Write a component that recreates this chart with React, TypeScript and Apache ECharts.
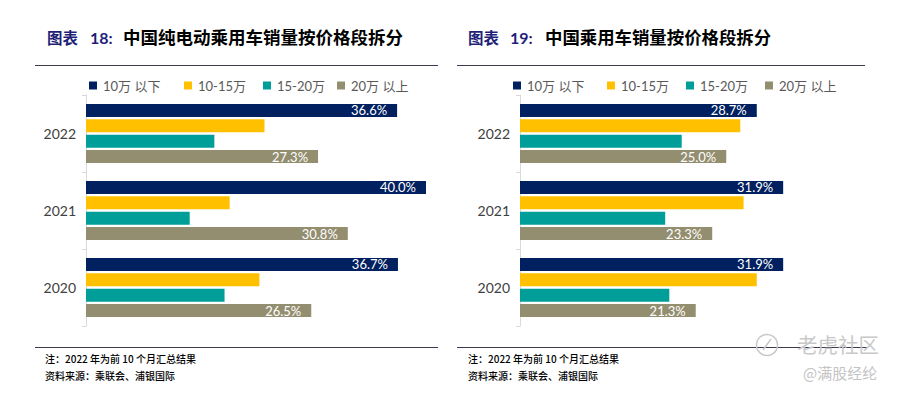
import React, { useEffect, useRef } from "react";
import * as echarts from "echarts";

const years = ["2020", "2021", "2022"];
const seriesNames = ["10万 以下", "10-15万", "15-20万", "20万 以上"];
const colors = ["#002060", "#FFC000", "#009E98", "#938E70"];

// Chart 18: pure EV passenger car sales by price segment (%), order 2020, 2021, 2022
const ev_below10 = [36.7, 40.0, 36.6];
const ev_10to15 = [20.4, 16.9, 21.0];
const ev_15to20 = [16.3, 12.2, 15.1];
const ev_above20 = [26.5, 30.8, 27.3];

// Chart 19: passenger car sales by price segment (%)
const pc_below10 = [31.9, 31.9, 28.7];
const pc_10to15 = [28.7, 27.1, 26.7];
const pc_15to20 = [18.1, 17.6, 19.6];
const pc_above20 = [21.3, 23.3, 25.0];

const labelledSeries = [true, false, false, true];

const FONT = "Lato, 'Noto Sans CJK SC', sans-serif";
const CJK = "'Noto Sans CJK SC', sans-serif";

export default function App() {
  const ref = useRef<HTMLDivElement>(null);
  useEffect(() => {
    if (!ref.current) return;
    const chart = echarts.init(ref.current, undefined, { renderer: "svg" });
    const sets = [
      [ev_below10, ev_10to15, ev_15to20, ev_above20],
      [pc_below10, pc_10to15, pc_15to20, pc_above20],
    ];
    const series: any[] = [];
    sets.forEach((set, gi) => {
      set.forEach((vals, si) => {
        series.push({
          type: "bar",
          name: seriesNames[si],
          xAxisIndex: gi,
          yAxisIndex: gi,
          data: vals,
          barWidth: 13,
          barGap: "18%",
          itemStyle: { color: colors[si] },
          label: {
            show: labelledSeries[si],
            position: "insideRight",
            distance: 10,
            color: "#ffffff",
            fontSize: 13,
            fontFamily: FONT,
            formatter: (p: any) => Number(p.value).toFixed(1) + "%",
          },
        });
      });
    });
    const legendLefts = [
      [89, 184, 263, 337],
      [513, 607, 686, 765],
    ];
    const legends: any[] = [];
    legendLefts.forEach((lefts) => {
      lefts.forEach((l, i) => {
        legends.push({
          data: [seriesNames[i]],
          left: l,
          top: 79,
          padding: 0,
          itemWidth: 8,
          itemHeight: 8,
          itemGap: 0,
          icon: "rect",
          selectedMode: false,
          textStyle: { fontSize: 13, color: "#595959", fontFamily: FONT, padding: [0, 0, 0, 1] },
        });
      });
    });
    const yAxisCommon = {
      type: "category",
      data: years,
      axisLine: { show: true, lineStyle: { color: "#D9D9D9", width: 1 } },
      axisTick: { show: true, length: 4, lineStyle: { color: "#D9D9D9" } },
      axisLabel: { fontSize: 14, color: "#404040", fontFamily: FONT, margin: 10 },
    };
    const xAxisCommon = {
      type: "value",
      min: 0,
      max: 40,
      show: false,
      splitLine: { show: false },
    };
    const title = (x: number, num: string, main: string, numX: number, mainX: number, mainSize: number) => [
      {
        type: "text",
        left: x,
        top: 29,
        style: { text: "图表", fontSize: 15.5, fontWeight: "bold", fill: "#1F1F78", fontFamily: CJK },
      },
      {
        type: "text",
        left: numX,
        top: 29,
        style: { text: num, fontSize: 16, fontWeight: "bold", fill: "#1F1F78", fontFamily: "Lato, 'Liberation Sans', sans-serif" },
      },
      {
        type: "text",
        left: mainX,
        top: 28,
        style: { text: main, fontSize: mainSize, fontWeight: "bold", fill: "#000000", fontFamily: CJK },
      },
    ];
    const hline = (x1: number, x2: number, y: number) => ({
      type: "line",
      shape: { x1, y1: y, x2, y2: y },
      style: { stroke: "#3C3C50", lineWidth: 1 },
    });
    const foot = (x: number) => [
      {
        type: "text",
        left: x,
        top: 353,
        style: { text: "注：2022 年为前 10 个月汇总结果", fontSize: 10, fontWeight: 500, fill: "#000", fontFamily: CJK },
      },
      {
        type: "text",
        left: x,
        top: 370,
        style: { text: "资料来源：乘联会、浦银国际", fontSize: 10, fontWeight: 500, fill: "#000", fontFamily: CJK },
      },
    ];
    chart.setOption({
      animation: false,
      backgroundColor: "#ffffff",
      grid: [
        { left: 86, top: 95, width: 340, height: 231 },
        { left: 520, top: 95, width: 330, height: 231 },
      ],
      xAxis: [
        { ...xAxisCommon, gridIndex: 0 },
        { ...xAxisCommon, gridIndex: 1 },
      ],
      yAxis: [
        { ...yAxisCommon, gridIndex: 0 },
        { ...yAxisCommon, gridIndex: 1 },
      ],
      legend: legends,
      series,
      graphic: [
        ...title(47, "18:", "中国纯电动乘用车销量按价格段拆分", 90, 123, 17.5),
        ...title(468, "19:", "中国乘用车销量按价格段拆分", 510, 545, 17.4),
        hline(35, 438, 65.5),
        hline(457, 865, 65.5),
        hline(35, 438, 347.5),
        hline(457, 868, 347.5),
        ...foot(45),
        ...foot(468),
        {
          type: "circle",
          shape: { cx: 767, cy: 345, r: 10.5 },
          style: { fill: "none", stroke: "#C8C8C8", lineWidth: 1.5 },
        },
        {
          type: "line",
          shape: { x1: 763, y1: 350, x2: 771, y2: 339 },
          style: { stroke: "#C8C8C8", lineWidth: 1.5 },
        },
        {
          type: "text",
          left: 797,
          top: 334,
          style: { text: "老虎社区", fontSize: 20.5, fill: "#C8C8C8", fontFamily: CJK },
        },
        {
          type: "text",
          left: 803,
          top: 365,
          style: { text: "@满股经纶", fontSize: 15, fill: "#C4C4C4", fontFamily: CJK },
        },
      ],
    });
    return () => chart.dispose();
  }, []);
  return (
    <div
      ref={ref}
      style={{ position: "fixed", left: 0, top: 0, width: 900, height: 397, background: "#fff" }}
    />
  );
}
